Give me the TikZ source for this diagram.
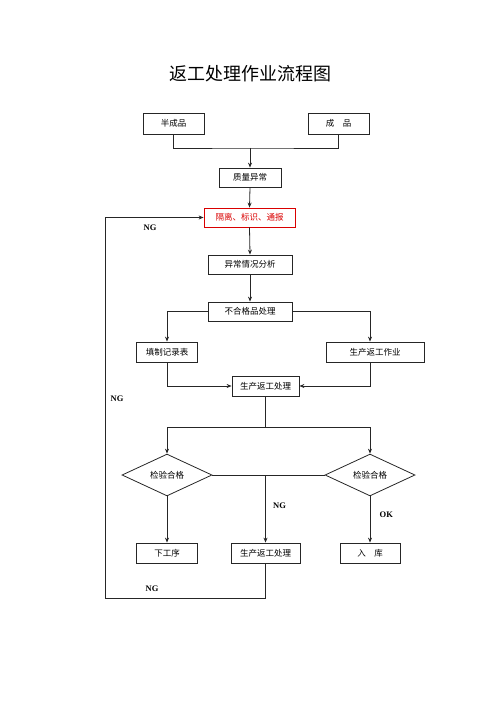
\documentclass[tikz,border=0pt]{standalone}
\usepackage{fontspec}
\newfontfamily\cjk{Noto Sans CJK SC}
\newfontfamily\lat{Liberation Serif}
\usetikzlibrary{shapes.geometric,arrows.meta}
\begin{document}
\begin{tikzpicture}[x=1pt,y=-1pt,
  every node/.style={font=\cjk\fontsize{8.5}{10}\selectfont},
  box/.style={draw=black!85,line width=0.8pt,rectangle,inner sep=0pt,minimum height=20pt},
  dia/.style={draw=black!85,line width=0.8pt,diamond,inner sep=0pt,minimum width=90pt,minimum height=39pt},
  conn/.style={draw=black!85,line width=0.8pt},
  arr/.style={conn,-{Stealth[length=5pt,width=4pt]}},
  lbl/.style={font=\lat\bfseries\fontsize{8.5}{10}\selectfont}]
\useasboundingbox (0,0) rectangle (500,708);
\node[font=\cjk\fontsize{18}{20}\selectfont] (title) at (250,74) {返工处理作业流程图};
\node[box,minimum width=61pt,minimum height=21pt] (a) at (173.5,123.5) {半成品};
\node[box,minimum width=61pt,minimum height=21pt] (b) at (338.5,123.5) {成\quad 品};
\node[box,minimum width=62pt,minimum height=19pt] (c) at (250,177.5) {质量异常};
\node[box,draw=red!85!black,text=red!85!black,minimum width=91pt,minimum height=19pt] (e) at (249.5,217.5) {隔离、标识、通报};
\node[box,minimum width=84pt,minimum height=19pt] (f0) at (250,264.5) {异常情况分析};
\node[box,minimum width=84pt,minimum height=19pt] (f) at (250,311.5) {不合格品处理};
\node[box,minimum width=61pt] (g) at (167,352) {填制记录表};
\node[box,minimum width=98pt] (h) at (375,352) {生产返工作业};
\node[box,minimum width=67pt] (i) at (265.5,386) {生产返工处理};
\node[dia] (dl) at (167,475) {检验合格};
\node[dia] (dr) at (370,475) {检验合格};
\node[box,minimum width=61pt] (j) at (167,553) {下工序};
\node[box,minimum width=69pt] (k) at (265.5,553) {生产返工处理};
\node[box,minimum width=60pt] (l) at (370,553) {入\quad 库};
\coordinate (m) at (250,148);
\coordinate (s) at (265.5,427);
\coordinate (q) at (105,598);
\draw[conn] (a.south) |- (m) -| (b.south);
\draw[arr] (m) -- (c.north);
\draw[arr] (c.south) -- (e.north);
\draw[arr] (e.south) -- (f0.north);
\draw[arr] (f0.south) -- (f.north);
\draw[arr] (f.west) -| (g.north);
\draw[arr] (f.east) -| (h.north -| dr.north);
\draw[arr] (g.south) |- (i.west);
\draw[arr] (h.south -| dr.north) |- (i.east);
\draw[conn] (i.south) -- (s);
\draw[conn] (dl.north |- s) -- (dr.north |- s);
\draw[arr] (dl.north |- s) -- (dl.north);
\draw[arr] (dr.north |- s) -- (dr.north);
\draw[conn] (dl.east) -- (dr.west);
\draw[arr] (k.north |- dl.east) -- node[lbl,right=4pt,pos=0.45] {NG} (k.north);
\draw[arr] (dl.south) -- (j.north);
\draw[arr] (dr.south) -- node[lbl,right=6pt,pos=0.4] {OK} (l.north);
\draw[arr] (k.south) |- (q) |- (e.west);
\node[lbl] (ng1) at (150,228) {NG};
\node[lbl] (ng2) at (117,399) {NG};
\node[lbl] (ng3) at (152,589) {NG};
\end{tikzpicture}
\end{document}
